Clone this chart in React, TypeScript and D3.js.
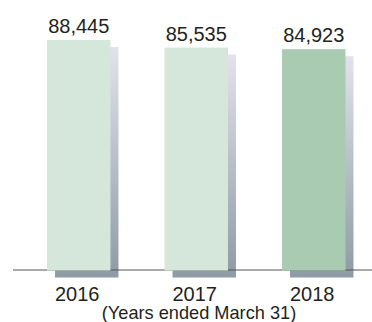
import React from "react";
import * as d3 from "d3";

const years = ["2016", "2017", "2018"];
const values = [88445, 85535, 84923];
const barColors = ["#d5e7da", "#d5e7da", "#a8cbb2"];
const subtitle = "(Years ended March 31)";

export default function App() {
  const W = 372, H = 322;
  const baseline = 270.5;
  const x = d3.scaleBand<string>().domain(years).range([20, 372.5]).paddingInner(0.46).paddingOuter(0.23);
  const y = d3.scaleLinear().domain([0, 88445]).range([baseline, 40]);
  const fmt = d3.format(",");
  const dx = 8, dy = 7;
  return (
    <svg width={W} height={H} style={{ position: "absolute", left: 0, top: 0 }} fontFamily="'Liberation Sans', Arial, sans-serif">
      <defs>
        <linearGradient id="shadowGrad" x1="0" y1="0" x2="0" y2="1">
          <stop offset="0" stopColor="#e2e2ec" />
          <stop offset="1" stopColor="#8d9ba5" />
        </linearGradient>
      </defs>
      <rect width={W} height={H} fill="#fff" />
      {years.map((yr, i) => (
        <rect key={"s" + yr} x={x(yr)! + dx} y={y(values[i]) + dy} width={x.bandwidth()} height={baseline - y(values[i])} fill="url(#shadowGrad)" />
      ))}
      <line x1={13} x2={372} y1={270} y2={270} stroke="#555" strokeWidth={1} />
      {years.map((yr, i) => (
        <rect key={"b" + yr} x={x(yr)!} y={y(values[i])} width={x.bandwidth()} height={baseline - y(values[i])} fill={barColors[i]} />
      ))}
      {years.map((yr, i) => (
        <text key={"v" + yr} x={x(yr)! + x.bandwidth() / 2} y={y(values[i]) - 7} textAnchor="middle" fontSize={20} fill="#231f20">{fmt(values[i])}</text>
      ))}
      {years.map((yr) => (
        <text key={"t" + yr} x={x(yr)! + x.bandwidth() / 2 - 1.5} y={301} textAnchor="middle" fontSize={20} fill="#231f20">{yr}</text>
      ))}
      <text x={199} y={319} textAnchor="middle" fontSize={18.2} fill="#231f20">{subtitle}</text>
    </svg>
  );
}
